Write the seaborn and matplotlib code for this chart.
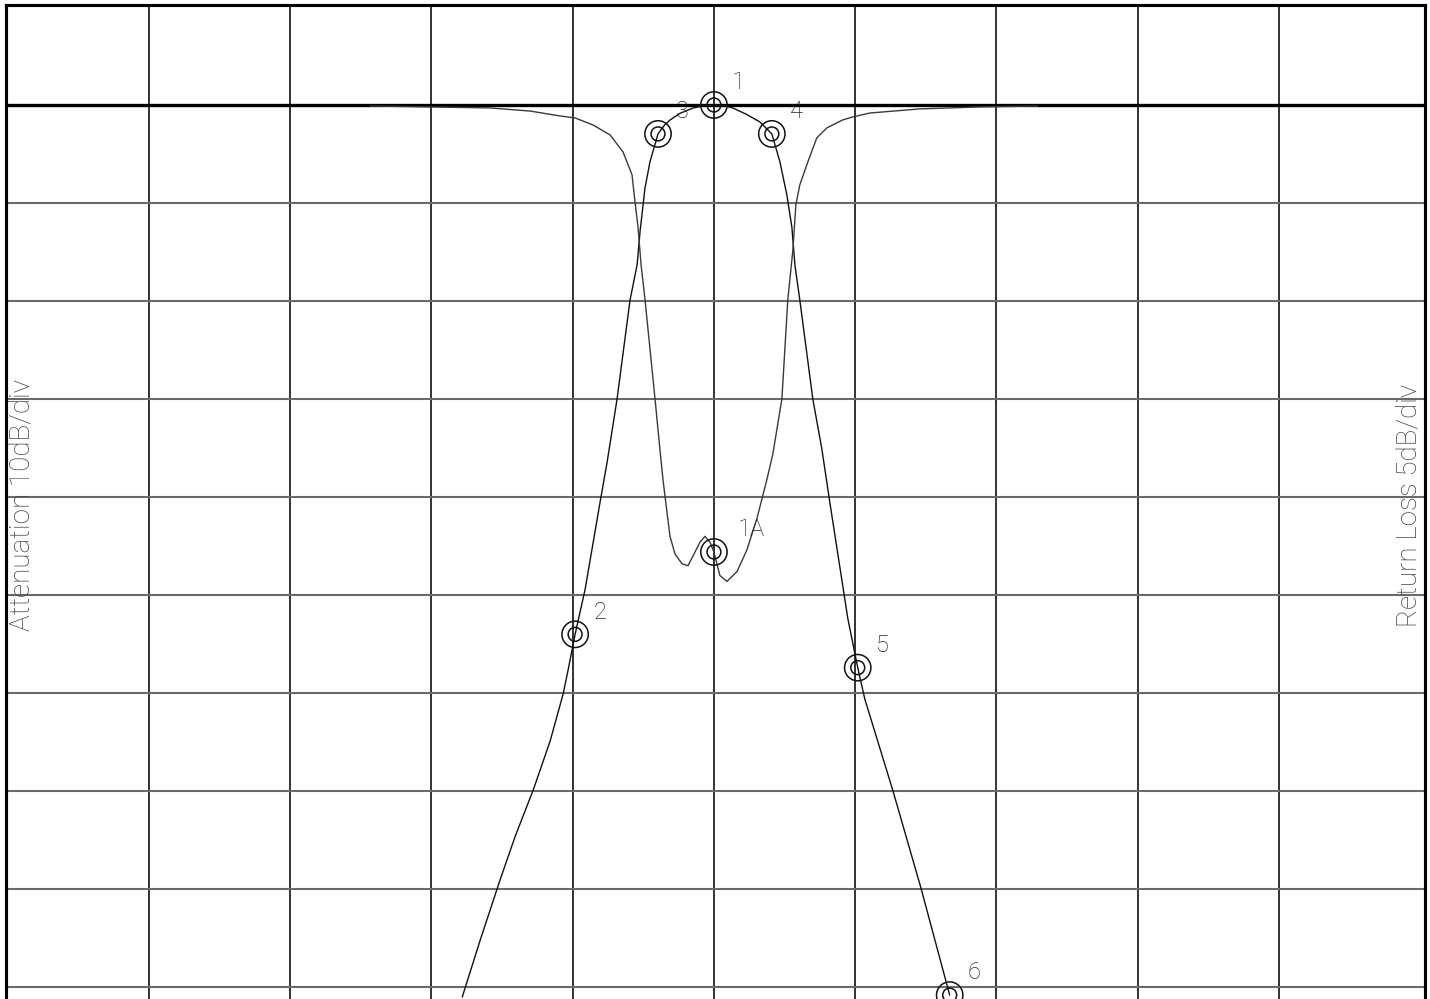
import numpy as np
import pandas as pd
import matplotlib
matplotlib.use("Agg")
import matplotlib.pyplot as plt
import seaborn as sns

# frequency axis in divisions from centre, attenuation in dB (10 dB/div)
s21_x = [-1.782, -1.655, -1.513, -1.407, -1.280, -1.160, -1.068, -1.032, -0.983, -0.912,
         -0.806, -0.757, -0.686, -0.594, -0.544, -0.523, -0.488, -0.453, -0.396, -0.350,
         -0.311, -0.240, -0.149, -0.070, 0.0, 0.070, 0.134, 0.230, 0.325, 0.410,
         0.467, 0.516, 0.552, 0.573, 0.608, 0.700, 0.764, 0.820, 0.948, 1.018,
         1.068, 1.266, 1.464, 1.669]
s21_db = [-91.0, -85.2, -79.0, -74.6, -69.9, -64.9, -60.1, -57.6, -54.0, -49.4,
          -40.5, -36.5, -30.0, -19.9, -16.3, -12.9, -8.45, -5.80, -2.95, -2.05,
          -1.53, -0.85, -0.31, -0.07, 0.0, -0.07, -0.31, -0.95, -1.73, -2.95,
          -5.80, -9.16, -12.5, -16.3, -19.9, -30.0, -35.1, -40.5, -52.4, -57.4,
          -60.6, -69.9, -79.8, -90.8]

# return loss in dB (5 dB/div)
s11_x = [-2.433, -2.008, -1.584, -1.301, -1.089, -0.983, -0.856, -0.735, -0.644, -0.580,
         -0.559, -0.537, -0.516, -0.488, -0.417, -0.382, -0.361, -0.332, -0.311, -0.276,
         -0.226, -0.184, -0.134, -0.099, -0.064, -0.028, 0.0, 0.042, 0.092, 0.163,
         0.233, 0.304, 0.375, 0.417, 0.481, 0.523, 0.559, 0.580, 0.608, 0.665,
         0.728, 0.799, 0.912, 0.983, 1.103, 1.457, 1.881, 2.291]
s11_db = [-0.05, -0.10, -0.15, -0.31, -0.56, -0.66, -1.02, -1.53, -2.39, -3.56,
          -4.94, -6.26, -8.15, -9.93, -15.0, -17.6, -19.1, -20.8, -22.0, -22.9,
          -23.4, -23.5, -22.8, -22.3, -22.0, -22.3, -22.8, -24.0, -24.3, -23.8,
          -22.7, -21.1, -19.1, -17.8, -15.0, -9.93, -7.38, -5.09, -4.07, -2.90,
          -1.68, -1.17, -0.76, -0.61, -0.41, -0.20, -0.10, -0.05]

# markers on the attenuation trace
mk_names = ["1", "2", "3", "4", "5", "6"]
mk_x = [0.0, -0.983, -0.396, 0.410, 1.018, 1.669]
mk_db = [0.0, -54.0, -2.95, -2.95, -57.4, -90.8]
# marker on the return loss trace
rl_name = "1A"
rl_x = 0.0
rl_db = -22.8

sns.set_style("white")
plt.rcParams["font.family"] = ["Roboto", "DejaVu Sans"]

fig = plt.figure(figsize=(14.3, 9.99), dpi=100)
ax = fig.add_axes([6 / 1430, 0, 1419 / 1430, 994 / 999])
ax.set_xlim(-5.012, 5.034)
ax.set_ylim(-91.2, 10.2)

# grid
for gx in np.arange(-4, 5):
    ax.axvline(gx, color="#222222", lw=1.3, zorder=1)
for gy in np.arange(-90, 0, 10):
    ax.axhline(gy, color="#6a6a6a", lw=1.5, zorder=1)
ax.axhline(0, color="black", lw=2.4, zorder=2)

df21 = pd.DataFrame({"x": s21_x, "db": s21_db})
sns.lineplot(data=df21, x="x", y="db", ax=ax, color="#111111", lw=1.0,
             sort=False, estimator=None, zorder=3)

ax2 = ax.twinx()
ax2.set_ylim(-91.2 / 2, 10.2 / 2)
df11 = pd.DataFrame({"x": s11_x, "db": s11_db})
sns.lineplot(data=df11, x="x", y="db", ax=ax2, color="#3a3a3a", lw=1.0,
             sort=False, estimator=None, zorder=3)

# double ring markers
for a, xs, ys in [(ax, mk_x, mk_db), (ax2, [rl_x], [rl_db])]:
    a.scatter(xs, ys, s=360, facecolors="none", edgecolors="#111111", linewidths=1.1, zorder=4, clip_on=False)
    a.scatter(xs, ys, s=100, facecolors="none", edgecolors="#111111", linewidths=1.1, zorder=4, clip_on=False)

for name, x, y in zip(mk_names, mk_x, mk_db):
    ax.annotate(name, (x, y), xytext=(13, 16), textcoords="offset points",
                fontsize=17, color="#222222", fontweight="light", ha="left", va="center")
ax2.annotate(rl_name, (rl_x, rl_db), xytext=(17, 16), textcoords="offset points",
             fontsize=17, color="#222222", fontweight="light", ha="left", va="center")

ax.text(0.0115, 0.497, "Attenuation 10dB/div", transform=ax.transAxes, rotation=90,
        fontsize=20, color="#444444", fontweight="light", ha="center", va="center")
ax.text(0.9885, 0.497, "Return Loss 5dB/div", transform=ax.transAxes, rotation=90,
        fontsize=20, color="#444444", fontweight="light", ha="center", va="center")

for a in (ax, ax2):
    a.set_xticks([])
    a.set_yticks([])
    a.set_xlabel("")
    a.set_ylabel("")
    for side in ["left", "top", "right"]:
        a.spines[side].set_color("black")
        a.spines[side].set_linewidth(2.2)
    a.spines["bottom"].set_visible(False)

fig.savefig("out.png", dpi=100)
